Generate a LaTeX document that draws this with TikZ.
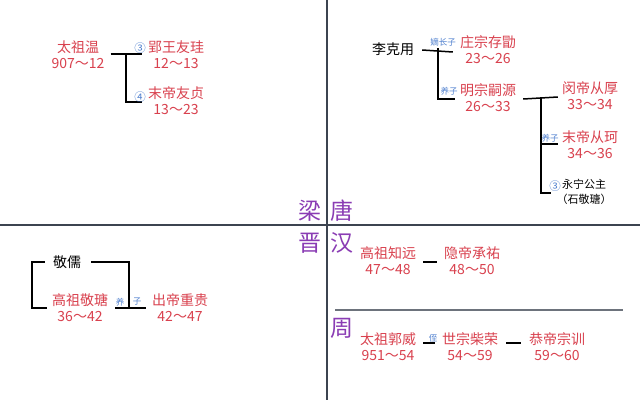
\documentclass[tikz,border=0pt]{standalone}
\usepackage{fontspec}
\setmainfont{Noto Sans CJK SC}
\definecolor{dihong}{HTML}{D9414E}
\definecolor{chaozi}{HTML}{8A3CB4}
\definecolor{guanlan}{HTML}{4F80CF}
\definecolor{zhouhui}{HTML}{3C4450}
\usepackage{tikz}
\usetikzlibrary{positioning}

\begin{document}
\begin{tikzpicture}[x=1pt, y=-1pt,
      di/.style={align=center, inner sep=0pt, text=dihong,
                 font=\fontsize{14}{16}\selectfont},
      ren/.style={align=center, inner sep=0pt, text=black,
                  font=\fontsize{14}{16}\selectfont},
      chao/.style={inner sep=0pt, text=chaozi, font=\fontsize{23}{23}\selectfont},
      guanxi/.style={inner sep=0pt, text=guanlan, font=\fontsize{8.5}{9}\selectfont},
      quan/.style={inner sep=0pt, text=guanlan, font=\fontsize{11.5}{12}\selectfont},
      xian/.style={line width=1.5pt, draw=black},
      zhou/.style={line width=1.2pt, draw=zhouhui}
    ]
    \useasboundingbox[fill=white] (0,0) rectangle (640,415);
    % axes
    \draw[zhou] (327,0) -- (327,400);
    \draw[zhou] (0,225) -- (640,225);
    \draw[zhou, draw=zhouhui!75, line width=1.1pt] (335,310) -- (623,310);
    \node[chao] (liang) at (310,211) {梁};
    \node[chao] (tang)  at (342,211) {唐};
    \node[chao] (jin)   at (310,243) {晋};
    \node[chao] (han)   at (342,243) {汉};
    \node[chao] (zhouc) at (342,328) {周};

    % Liang
    \node[di] (wen)  at (78,55)   {太祖温\\907～12};
    \node[di] (youg) at (176,55)  {郢王友珪\\12～13};
    \node[di] (youz) at (176,101) {末帝友贞\\13～23};
    \coordinate (liangfen) at (126,54);
    \draw[xian] ([xshift=6pt,yshift=1pt]wen.east) -- ([xshift=-6pt,yshift=1pt]youg.west);
    \draw[xian] (liangfen) |- ([xshift=-6pt,yshift=-1pt]youz.west);
    \node[quan] (n3a) at (140,48) {③};
    \node[quan] (n4a) at (140,97) {④};

    % Tang
    \node[ren] (keyong)  at (393,49)  {李克用};
    \node[di]  (cunxu)   at (488,50)  {庄宗存勖\\23～26};
    \node[di]  (siyuan)  at (488,98)  {明宗嗣源\\26～33};
    \node[di]  (conghou) at (590,96)  {闵帝从厚\\33～34};
    \node[di]  (congke)  at (590,145) {末帝从珂\\34～36};
    \node[ren, font=\fontsize{11}{15}\selectfont] (yongning) at (584,192) {永宁公主\\（石敬瑭）};
    \coordinate (tangfen)  at (438,48);
    \coordinate (mingfen)  at (541,97);
    \draw[xian] ([xshift=8pt,yshift=-1pt]keyong.east) -- ([xshift=-7pt,yshift=-2pt]cunxu.west);
    \draw[xian] (tangfen) |- ([xshift=-5pt,yshift=-1pt]siyuan.west);
    \draw[xian] ([xshift=7pt,yshift=-1pt]siyuan.east) -- ([xshift=-4pt,yshift=-1pt]conghou.west);
    \draw[xian] (mingfen) |- ([xshift=-4pt,yshift=1pt]congke.west);
    \draw[xian] (mingfen) |- ([xshift=-5pt,yshift=-1pt]yongning.west);
    \node[guanxi] (dizhang) at (443,42)  {嫡长子};
    \node[guanxi] (yang1)   at (449,91)  {养子};
    \node[guanxi] (yang2)   at (550,138) {养子};
    \node[quan]   (n3b)     at (555,186) {③};

    % Jin
    \node[ren] (jingru)   at (67,262)  {敬儒};
    \node[di]  (jingtang) at (80,308)  {高祖敬瑭\\36～42};
    \node[di]  (zhonggui) at (180,308) {出帝重贵\\42～47};
    \draw[xian] ([xshift=-8pt]jingru.west) -- ++(-13,0) |- ([xshift=-5pt]jingtang.west);
    \draw[xian] ([xshift=10pt]jingru.east) -| ([xshift=21pt]jingtang.east);
    \draw[xian] ([xshift=7pt]jingtang.east) -- ([xshift=-6pt]zhonggui.west);
    \node[guanxi] (yang3) at (120,302) {养};
    \node[guanxi] (zi3)   at (137,302) {子};

    % Han
    \node[di] (zhiyuan)  at (388,261) {高祖知远\\47～48};
    \node[di] (chengyou) at (472,261) {隐帝承祐\\48～50};
    \draw[xian] ([xshift=7pt,yshift=-1pt]zhiyuan.east) -- ([xshift=-7pt,yshift=-1pt]chengyou.west);

    % Zhou
    \node[di] (guowei)   at (388,347) {太祖郭威\\951～54};
    \node[di] (chairong) at (470,347) {世宗柴荣\\54～59};
    \node[di] (zongxun)  at (557,347) {恭帝宗训\\59～60};
    \draw[xian] ([xshift=7pt,yshift=4pt]guowei.east) -- ([xshift=-7pt,yshift=4pt]chairong.west);
    \draw[xian] ([xshift=8pt,yshift=4pt]chairong.east) -- ([xshift=-8pt,yshift=4pt]zongxun.west);
    \node[guanxi] (zhi) at (433,338) {侄};
  \end{tikzpicture}
\end{document}
